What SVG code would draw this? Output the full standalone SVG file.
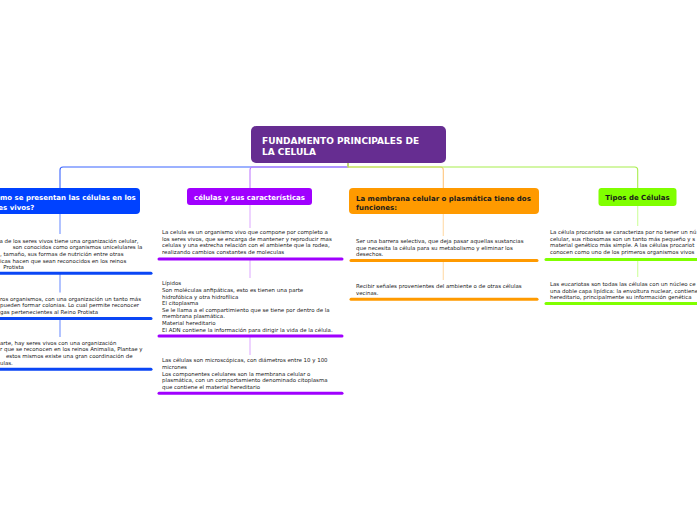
<svg xmlns="http://www.w3.org/2000/svg" width="697" height="520" viewBox="0 0 697 520">
<style>
.root{font-family:"DejaVu Sans",Verdana,sans-serif;font-weight:bold;font-size:9px;fill:#ffffff}
.nt{font-family:"DejaVu Sans",Verdana,sans-serif;font-weight:bold;font-size:7px}
.w{fill:#ffffff}
.d{fill:#1a1a1a}
.bt{font-family:"DejaVu Sans",Verdana,sans-serif;font-size:5.45px;fill:#222222}
.ul{stroke-width:3;stroke-linecap:round;fill:none}
.sub{stroke-width:1.2;fill:none}
.con{stroke-width:1.1;fill:none}
</style>
<rect width="697" height="520" fill="#ffffff"/>
<g id="connectors">
<path class="con" stroke="#3a64ff" d="M348,163 V167 H63 Q60,167 60,170 V188"/>
<path class="con" stroke="#c27cff" d="M348,163 V167 H253 Q250,167 250,170 V188"/>
<path class="con" stroke="#ffc57c" d="M348,163 V167 H440.3 Q443.3,167 443.3,170 V188"/>
<path class="con" stroke="#a8ee4c" d="M348,163 V167 H634.7 Q637.7,167 637.7,170 V188"/>
<g class="sub" stroke="#7e9bff">
<path d="M60,214 V234"/><path d="M60,273 V292.5"/><path d="M60,318.5 V337"/>
</g>
<g class="sub" stroke="#e3b6ff">
<path d="M250,205 V228"/><path d="M250,259 V278"/><path d="M250,336 V355"/>
</g>
<g class="sub" stroke="#ffdeb0">
<path d="M443.3,214 V236"/><path d="M443.3,260.5 V280"/>
</g>
<g class="sub" stroke="#d2ffa6">
<path d="M637.7,206 V226"/><path d="M637.7,259.5 V277"/>
</g>
</g>
<g id="root">
<rect x="251" y="126" width="195" height="37" rx="5" fill="#662d91"/>
<text class="root"><tspan x="262" y="143.5">FUNDAMENTO PRINCIPALES DE</tspan><tspan x="262" y="154.5">LA CELULA</tspan></text>
</g>
<g id="node-como">
<rect x="-30" y="188" width="170" height="26" rx="4" fill="#0042ff"/>
<text class="nt w"><tspan x="-14" y="200">¿Cómo se presentan las células en los</tspan><tspan x="-14" y="209.5">seres vivos?</tspan></text>
</g>
<g id="item-como-1">
<text class="bt"><tspan x="-0.5" y="242.5">a de los seres vivos tiene una organización celular,</tspan><tspan x="12.7" y="249.2">son conocidos como organismos unicelulares la</tspan><tspan x="0" y="255.8">, tamaño, sus formas de nutrición entre otras</tspan><tspan x="0" y="262.5">icas hacen que sean reconocidos en los reinos</tspan><tspan x="3.3" y="269.2">Protista</tspan></text>
<line class="ul" stroke="#0a46f5" x1="-5" y1="273.3" x2="151" y2="273.3"/>
</g>
<g id="item-como-2">
<text class="bt"><tspan x="0" y="300.5">ros organismos, con una organización un tanto más</tspan><tspan x="0" y="307.2">pueden formar colonias. Lo cual permite reconocer</tspan><tspan x="0" y="313.8">gas pertenecientes al Reino Protista</tspan></text>
<line class="ul" stroke="#0a46f5" x1="-5" y1="318.5" x2="151" y2="318.5"/>
</g>
<g id="item-como-3">
<text class="bt"><tspan x="0" y="344.5">arte, hay seres vivos con una organización</tspan><tspan x="0" y="351.2">r que se reconocen en los reinos Animalia, Plantae y</tspan><tspan x="6" y="357.8">estos mismos existe una gran coordinación de</tspan><tspan x="0" y="364.5">ulas.</tspan></text>
<line class="ul" stroke="#0a46f5" x1="-5" y1="369.3" x2="151" y2="369.3"/>
</g>
<g id="node-celulas">
<rect x="187" y="188" width="125" height="17" rx="3" fill="#a000ff"/>
<text class="nt w" x="249.5" y="200" text-anchor="middle">células y sus características</text>
</g>
<g id="item-celulas-1">
<text class="bt"><tspan x="162" y="234">La celula es un organismo vivo que compone por completo a</tspan><tspan x="162" y="240.7">los seres vivos, que se encarga de mantener y reproducir mas</tspan><tspan x="162" y="247.3">celulas y una estrecha relación con el ambiente que la rodea,</tspan><tspan x="162" y="254">realizando cambios constantes de moleculas</tspan></text>
<line class="ul" stroke="#a000ff" x1="159" y1="259" x2="342" y2="259"/>
</g>
<g id="item-celulas-2">
<text class="bt"><tspan x="162" y="285.3">Lípidos</tspan><tspan x="162" y="291.9">Son moléculas anfipáticas, esto es tienen una parte</tspan><tspan x="162" y="298.5">hidrofóbica y otra hidrofílica</tspan><tspan x="162" y="305.1">El citoplasma</tspan><tspan x="162" y="311.7">Se le llama a el compartimiento que se tiene por dentro de la</tspan><tspan x="162" y="318.3">membrana plasmática.</tspan><tspan x="162" y="324.9">Material hereditario</tspan><tspan x="162" y="331.5">El ADN contiene la información para dirigir la vida de la célula.</tspan></text>
<line class="ul" stroke="#a000ff" x1="159" y1="336" x2="342" y2="336"/>
</g>
<g id="item-celulas-3">
<text class="bt"><tspan x="162" y="362.4">Las células son microscópicas, con diámetros entre 10 y 100</tspan><tspan x="162" y="369">micrones</tspan><tspan x="162" y="375.6">Los componentes celulares son la membrana celular o</tspan><tspan x="162" y="382.2">plasmática, con un comportamiento denominado citoplasma</tspan><tspan x="162" y="388.8">que contiene el material hereditario</tspan></text>
<line class="ul" stroke="#a000ff" x1="159" y1="393.3" x2="342" y2="393.3"/>
</g>
<g id="node-membrana">
<rect x="349" y="188" width="190" height="26" rx="4" fill="#ff9a00"/>
<text class="nt d"><tspan x="356" y="200.5">La membrana celular o plasmática tiene dos</tspan><tspan x="356" y="209.5">funciones:</tspan></text>
</g>
<g id="item-membrana-1">
<text class="bt"><tspan x="356" y="243.2">Ser una barrera selectiva, que deja pasar aquellas sustancias</tspan><tspan x="356" y="249.8">que necesita la célula para su metabolismo y eliminar los</tspan><tspan x="356" y="256.4">desechos.</tspan></text>
<line class="ul" stroke="#ff9a00" x1="351" y1="260.6" x2="537" y2="260.6"/>
</g>
<g id="item-membrana-2">
<text class="bt"><tspan x="356" y="288.2">Recibir señales provenientes del ambiente o de otras células</tspan><tspan x="356" y="294.8">vecinas.</tspan></text>
<line class="ul" stroke="#ff9a00" x1="351" y1="299.3" x2="537" y2="299.3"/>
</g>
<g id="node-tipos">
<rect x="598.5" y="188" width="78" height="18" rx="3" fill="#80ff00"/>
<text class="nt d" x="637.5" y="200.3" text-anchor="middle">Tipos de Células</text>
</g>
<g id="item-tipos-1">
<text class="bt"><tspan x="550" y="234">La célula procariota se caracteriza por no tener un nú</tspan><tspan x="550" y="240.7">celular, sus ribosomas son un tanto más pequeño y s</tspan><tspan x="550" y="247.3">material genético más simple. A las células procariot</tspan><tspan x="550" y="254">conocen como uno de los primeros organismos vivos</tspan></text>
<line class="ul" stroke="#80ff00" x1="546" y1="259.5" x2="702" y2="259.5"/>
</g>
<g id="item-tipos-2">
<text class="bt"><tspan x="550" y="286">Las eucariotas son todas las células con un núcleo ce</tspan><tspan x="550" y="292.6">una doble capa lipídica: la envoltura nuclear, contiene</tspan><tspan x="550" y="299.2">hereditario, principalmente su información genética</tspan></text>
<line class="ul" stroke="#80ff00" x1="546" y1="303.5" x2="702" y2="303.5"/>
</g>
</svg>
